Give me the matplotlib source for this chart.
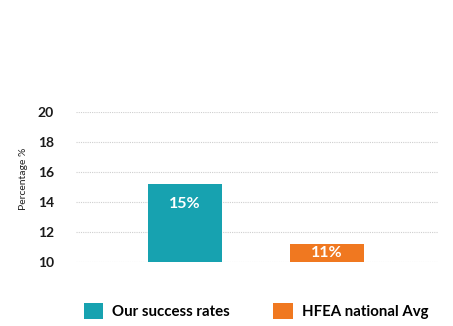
import matplotlib
matplotlib.use("Agg")
import matplotlib.pyplot as plt
from matplotlib.patches import Patch

plt.rcParams['font.family'] = ['Lato', 'DejaVu Sans']

categories = ["Our success rates", "HFEA national Avg"]
values = [15.2, 11.2]
labels = ["15%", "11%"]
colors = ["#17A2B0", "#F07820"]
yticks = [10, 12, 14, 16, 18, 20]
base = 10

fig = plt.figure(figsize=(4.53, 3.26), dpi=100)
ax = fig.add_axes([76 / 453, 0.196, 362 / 453, 0.46])

xs = list(range(len(categories)))
ax.bar(xs, [v - base for v in values], bottom=base, width=0.52, color=colors, zorder=3)
for x, v, lab in zip(xs, values, labels):
    # label sits near the bar top, but stays inside short bars
    ly = max((base + v) / 2, v - 1.3)
    ax.text(x, ly, lab, ha="center", va="center", color="white",
            fontsize=11.5, fontweight="bold", zorder=4)

ax.set_xlim(-0.768, 1.782)
ax.set_ylim(base, 20)
ax.set_yticks(yticks)
ax.set_xticks([])
ax.yaxis.grid(True, color="#cfcfcf", linestyle=(0, (1, 1)), linewidth=0.8, zorder=0)
ax.tick_params(axis="y", length=0, pad=16, labelsize=10, labelcolor="#1a1a1a")
for t in ax.get_yticklabels():
    t.set_fontweight("bold")
for s in ax.spines.values():
    s.set_visible(False)

fig.text(23 / 453, 1 - 179 / 326, "Percentage %", rotation=90, ha="center", va="center",
         fontsize=7.5, color="#222222")

handles = [Patch(facecolor=c, edgecolor="none") for c in colors]
fig.legend(handles, categories, loc="center", bbox_to_anchor=(256 / 453, 15 / 326), ncol=2,
           frameon=False, handlelength=1.3, handleheight=1.3,
           handletextpad=0.6, columnspacing=2.9, prop={"weight": "bold", "size": 10.8})

fig.savefig("out.png", dpi=100)
